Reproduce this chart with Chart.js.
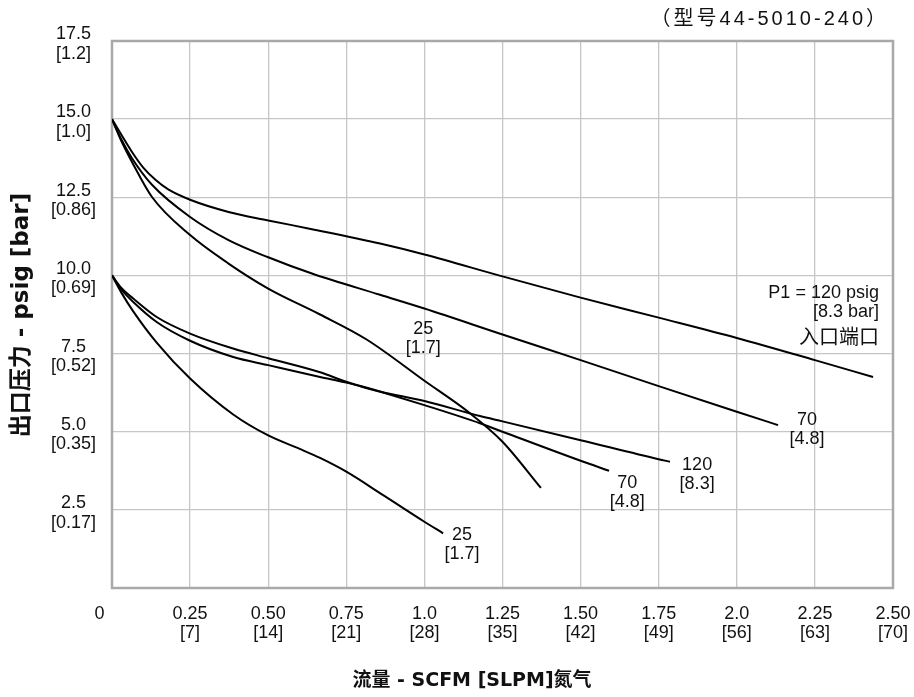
<!DOCTYPE html>
<html>
<head>
<meta charset="utf-8">
<script src="https://cdn.jsdelivr.net/npm/chart.js@4"></script>
<style>
  body { margin: 0; background: #fff; }
  canvas { display: block; }
</style>
</head>
<body>
<canvas id="flowChart" width="914" height="697"></canvas>
<script>
// tick labels
const xTickTop = ['0     ', '0.25', '0.50', '0.75', '1.0', '1.25', '1.50', '1.75', '2.0', '2.25', '2.50'];
const xTickBottom = ['', '[7]', '[14]', '[21]', '[28]', '[35]', '[42]', '[49]', '[56]', '[63]', '[70]'];
const yTickTop = ['', '2.5', '5.0', '7.5', '10.0', '12.5', '15.0', '17.5'];
const yTickBottom = ['', '[0.17]', '[0.35]', '[0.52]', '[0.69]', '[0.86]', '[1.0]', '[1.2]'];

// curves starting at 15 psig
const flowA = [0, 0.03, 0.064, 0.1, 0.14, 0.18, 0.25, 0.373, 0.5, 0.64, 0.858, 1.0, 1.25, 1.5, 1.75, 2.0, 2.25, 2.436];
const presA = [15.0, 14.5, 13.95, 13.45, 13.05, 12.75, 12.42, 12.03, 11.76, 11.48, 11.02, 10.67, 9.97, 9.29, 8.65, 8.0, 7.29, 6.75];
const flowB = [0, 0.03, 0.064, 0.128, 0.25, 0.373, 0.5, 0.64, 0.858, 1.0, 1.25, 1.5, 1.75, 2.0, 2.132];
const presB = [15.0, 14.35, 13.75, 12.9, 11.87, 11.13, 10.58, 10.06, 9.38, 8.94, 8.11, 7.29, 6.46, 5.64, 5.21];
const flowC = [0, 0.03, 0.064, 0.128, 0.25, 0.373, 0.5, 0.666, 0.815, 1.0, 1.146, 1.25, 1.373];
const presC = [15.0, 14.3, 13.63, 12.51, 11.29, 10.38, 9.58, 8.75, 7.95, 6.63, 5.59, 4.68, 3.2];

// curves starting at 10 psig
const flowD = [0, 0.03, 0.068, 0.143, 0.25, 0.388, 0.5, 0.666, 0.75, 0.86, 1.0, 1.178, 1.25, 1.5, 1.75, 1.786];
const presD = [10.0, 9.55, 9.15, 8.51, 7.91, 7.39, 7.13, 6.75, 6.57, 6.28, 5.98, 5.5, 5.33, 4.73, 4.12, 4.04];
const flowE = [0, 0.03, 0.068, 0.143, 0.25, 0.388, 0.5, 0.666, 0.75, 0.86, 1.0, 1.178, 1.25, 1.5, 1.591];
const presE = [10.0, 9.6, 9.26, 8.67, 8.14, 7.66, 7.35, 6.9, 6.6, 6.28, 5.85, 5.27, 5.0, 4.07, 3.75];
const flowF = [0, 0.03, 0.068, 0.143, 0.25, 0.388, 0.5, 0.601, 0.666, 0.75, 0.868, 1.0, 1.06];
const presF = [10.0, 9.45, 8.85, 7.85, 6.7, 5.55, 4.88, 4.45, 4.16, 3.72, 2.97, 2.12, 1.75];

// curve labels (inlet pressure), anchored in data units
const curveLabels = [['25', '[1.7]'], ['70', '[4.8]'], ['120', '[8.3]'], ['70', '[4.8]'], ['25', '[1.7]']];
const labelFlow = [0.996, 2.225, 1.873, 1.649, 1.12];
const labelPres = [8.28, 5.37, 3.93, 3.36, 1.69];

const font = '"Liberation Sans", Arial, "Noto Sans CJK SC", sans-serif';
const boldFont = '"DejaVu Sans", "Noto Sans CJK SC", sans-serif';

const toPoints = (xs, ys) => xs.map((x, i) => ({ x: x, y: ys[i] }));
const series = [[flowA, presA], [flowB, presB], [flowC, presC], [flowD, presD], [flowE, presE], [flowF, presF]];

const textPlugin = {
  id: 'texts',
  beforeDatasetsDraw(chart) {
    const { ctx, chartArea: a } = chart;
    ctx.save();
    ctx.strokeStyle = '#a9a9a9';
    ctx.lineWidth = 2.5;
    ctx.strokeRect(a.left, a.top, a.right - a.left, a.bottom - a.top);
    ctx.restore();
  },
  afterDraw(chart) {
    const { ctx, scales } = chart;
    ctx.save();
    ctx.fillStyle = '#111';
    ctx.textBaseline = 'middle';

    // curve labels
    ctx.font = '18px ' + font;
    ctx.textAlign = 'center';
    curveLabels.forEach((lines, i) => {
      const px = scales.x.getPixelForValue(labelFlow[i]);
      const py = scales.y.getPixelForValue(labelPres[i]);
      lines.forEach((t, j) => ctx.fillText(t, px, py + j * 19));
    });

    // inlet note
    ctx.textAlign = 'right';
    const nx = scales.x.getPixelForValue(2.455);
    const ny = scales.y.getPixelForValue(9.43);
    ctx.fillText('P1 = 120 psig', nx, ny);
    ctx.fillText('[8.3 bar]', nx, ny + 19);
    ctx.font = '20px "Noto Sans CJK SC", sans-serif';
    ctx.fillText('入口端口', nx, ny + 43);

    // model number
    ctx.font = '20px ' + font;
    ctx.letterSpacing = '3px';
    ctx.fillText('（型号44-5010-240）', 889, 19);
    ctx.letterSpacing = '0px';

    // axis titles
    ctx.textAlign = 'center';
    ctx.font = 'bold 19px ' + boldFont;
    ctx.fillText('流量 - SCFM [SLPM]氮气', 472, 681);
    ctx.translate(22, 315);
    ctx.rotate(-Math.PI / 2);
    ctx.font = 'bold 23px ' + boldFont;
    ctx.fillText('出口压力 - psig [bar]', 0, 0);
    ctx.restore();
  }
};

new Chart(document.getElementById('flowChart'), {
  type: 'scatter',
  data: {
    datasets: series.map(s => ({
      data: toPoints(s[0], s[1]),
      showLine: true,
      borderColor: '#000',
      borderWidth: 2,
      pointRadius: 0,
      cubicInterpolationMode: 'monotone',
      fill: false
    }))
  },
  options: {
    responsive: false,
    animation: false,
    devicePixelRatio: 1,
    layout: { padding: { top: 41, right: 21, left: 0, bottom: 0 } },
    plugins: { legend: { display: false }, tooltip: { enabled: false } },
    scales: {
      x: {
        type: 'linear',
        min: 0,
        max: 2.5,
        afterFit: s => { s.height = 109; s.paddingRight = 0; s.paddingLeft = 0; },
        grid: { color: '#c6c6c6', lineWidth: 1.3, drawTicks: false },
        border: { display: false },
        ticks: {
          stepSize: 0.25,
          autoSkip: false,
          maxRotation: 0,
          padding: 16,
          color: '#111',
          font: { size: 18, family: font, lineHeight: 1.08 },
          callback: (v, i) => [xTickTop[i], xTickBottom[i]]
        }
      },
      y: {
        min: 0,
        max: 17.5,
        afterFit: s => { s.width = 112; },
        grid: { color: '#c6c6c6', lineWidth: 1.3, drawTicks: false },
        border: { display: false },
        ticks: {
          stepSize: 2.5,
          crossAlign: 'center',
          padding: 16,
          labelOffset: 3,
          color: '#111',
          font: { size: 18, family: font, lineHeight: 1.08 },
          callback: (v, i) => [yTickTop[i], yTickBottom[i]]
        }
      }
    }
  },
  plugins: [textPlugin]
});
</script>
</body>
</html>
